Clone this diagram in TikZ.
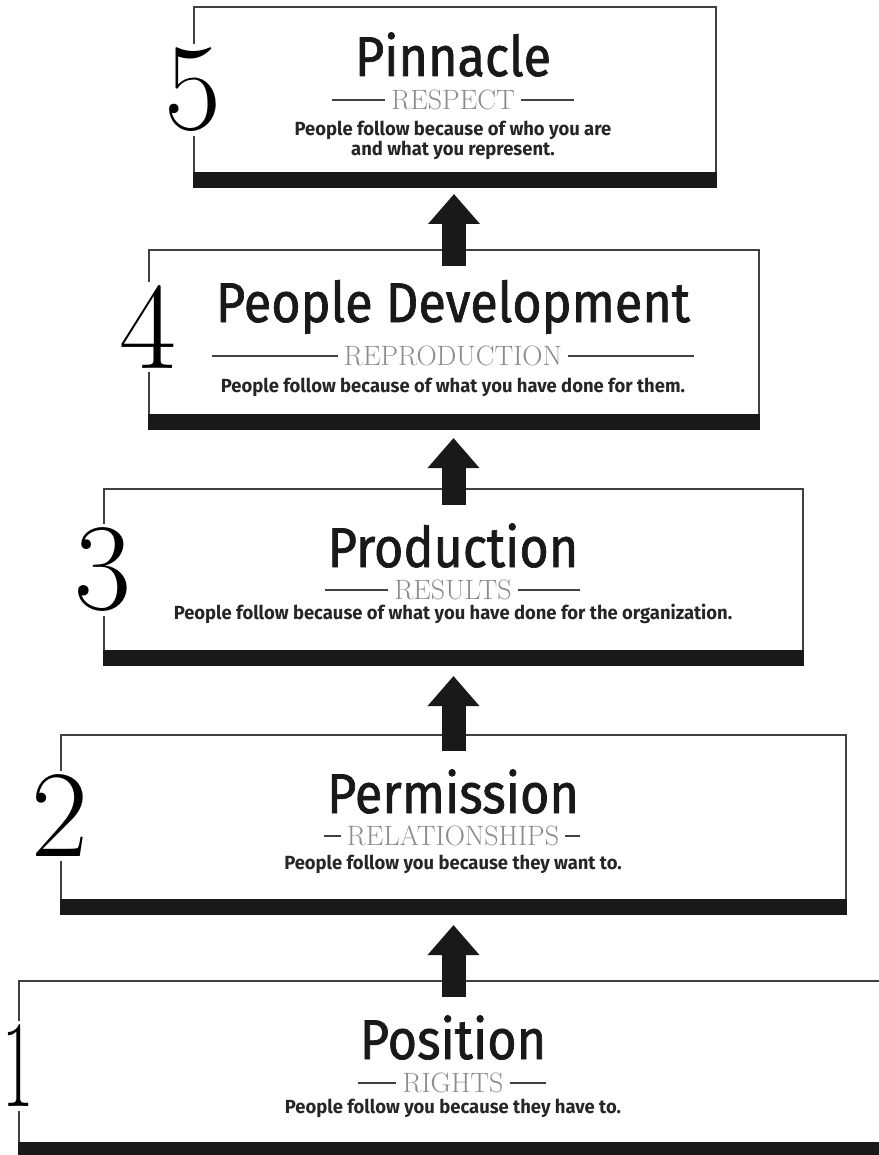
\documentclass[tikz,border=0pt]{standalone}
\usepackage{fontspec}
\usetikzlibrary{arrows.meta}
\newfontfamily\headfont{Fira Sans}[FakeStretch=0.9, FakeBold=1.2]
\newfontfamily\notefont{Fira Sans}[FakeStretch=0.97]

\begin{document}
\begin{tikzpicture}[x=1pt, y=-1pt,
    tier/.style={draw=black!75, line width=2pt, anchor=north west, inner sep=0pt},
    tierbar/.style={fill=black!90},
    stepnum/.style={fill=white, inner sep=4pt, font=\fontsize{124}{124}\selectfont},
    title/.style={anchor=base, inner sep=0pt, text depth=0pt, text=black!90, font=\headfont\fontsize{56}{56}\selectfont},
    motto/.style={inner xsep=6pt, inner ysep=0pt, text height=19pt, text depth=0pt, text=black!45, font=\fontsize{28}{28}\selectfont},
    motto rule/.style={draw=black!75, line width=1.5pt},
    note/.style={align=center, inner sep=1pt, text=black!85, font=\notefont\bfseries\fontsize{19}{20}\selectfont},
    climb/.style={draw=black!90, line width=24pt, -{Triangle[width=50pt,length=30pt]}}]
    \useasboundingbox (0,0) rectangle (878,1155);
    \fill[white] (0,0) rectangle (878,1155);

    % level 5
    \node[tier, minimum width=522pt, minimum height=180pt] (box5) at (193,6) {};
    \fill[tierbar] ([yshift=16pt]box5.south west) rectangle (box5.south east);
    \node[stepnum] (num5) at (193,90) {5};
    \node[title] (title5) at (453,76) {Pinnacle};
    \node[motto] (motto5) at (453,100) {RESPECT};
    \coordinate (m5l) at (332,100);
    \coordinate (m5r) at (574,100);
    \draw[motto rule] (m5l) -- (motto5.west) (motto5.east) -- (m5r);
    \node[note, anchor=north] (note5) at (453,120) {People follow because of who you are\\and what you represent.};

    % level 4
    \node[tier, minimum width=610pt, minimum height=179pt] (box4) at (148,249) {};
    \fill[tierbar] ([yshift=16pt]box4.south west) rectangle (box4.south east);
    \node[stepnum] (num4) at (148,327) {4};
    \node[title] (title4) at (453,322) {People Development};
    \node[motto] (motto4) at (453,356) {REPRODUCTION};
    \coordinate (m4l) at (212,356);
    \coordinate (m4r) at (694,356);
    \draw[motto rule] (m4l) -- (motto4.west) (motto4.east) -- (m4r);
    \node[note, anchor=base] (note4) at (453,392) {People follow because of what you have done for them.};

    % level 3
    \node[tier, minimum width=699pt, minimum height=176pt] (box3) at (103,488) {};
    \fill[tierbar] ([yshift=16pt]box3.south west) rectangle (box3.south east);
    \node[stepnum] (num3) at (103,570) {3};
    \node[title] (title3) at (453,567) {Production};
    \node[motto] (motto3) at (453,590) {RESULTS};
    \coordinate (m3l) at (325,590);
    \coordinate (m3r) at (580,590);
    \draw[motto rule] (m3l) -- (motto3.west) (motto3.east) -- (m3r);
    \node[note, anchor=base] (note3) at (453,619) {People follow because of what you have done for the organization.};

    % level 2
    \node[tier, minimum width=785pt, minimum height=179pt] (box2) at (60,734) {};
    \fill[tierbar] ([yshift=16pt]box2.south west) rectangle (box2.south east);
    \node[stepnum] (num2) at (60,816) {2};
    \node[title] (title2) at (453,813) {Permission};
    \node[motto] (motto2) at (453,836) {RELATIONSHIPS};
    \coordinate (m2l) at (324,836);
    \coordinate (m2r) at (580,836);
    \draw[motto rule] (m2l) -- (motto2.west) (motto2.east) -- (m2r);
    \node[note, anchor=base] (note2) at (453,869) {People follow you because they want to.};

    % level 1
    \node[tier, minimum width=882pt, minimum height=178pt] (box1) at (18,980) {};
    \fill[tierbar] ([yshift=18pt]box1.south west) rectangle (box1.south east);
    \node[stepnum] (num1) at (18,1066) {\scalebox{0.55}[1]{1}};
    \node[title] (title1) at (453,1059) {Position};
    \node[motto] (motto1) at (453,1083) {RIGHTS};
    \coordinate (m1l) at (358,1083);
    \coordinate (m1r) at (546,1083);
    \draw[motto rule] (m1l) -- (motto1.west) (motto1.east) -- (m1r);
    \node[note, anchor=base] (note1) at (453,1113) {People follow you because they have to.};

    % arrows
    \draw[climb] ([yshift=-17pt]box4.north) -- ([yshift=-6pt]box4.north |- box5.south);
    \draw[climb] ([yshift=-17pt]box3.north) -- ([yshift=-8pt]box3.north |- box4.south);
    \draw[climb] ([yshift=-17pt]box2.north) -- ([yshift=-10pt]box2.north |- box3.south);
    \draw[climb] ([yshift=-17pt]box2.north |- box1.north) -- ([yshift=-10pt]box2.north |- box2.south);
\end{tikzpicture}
\end{document}
